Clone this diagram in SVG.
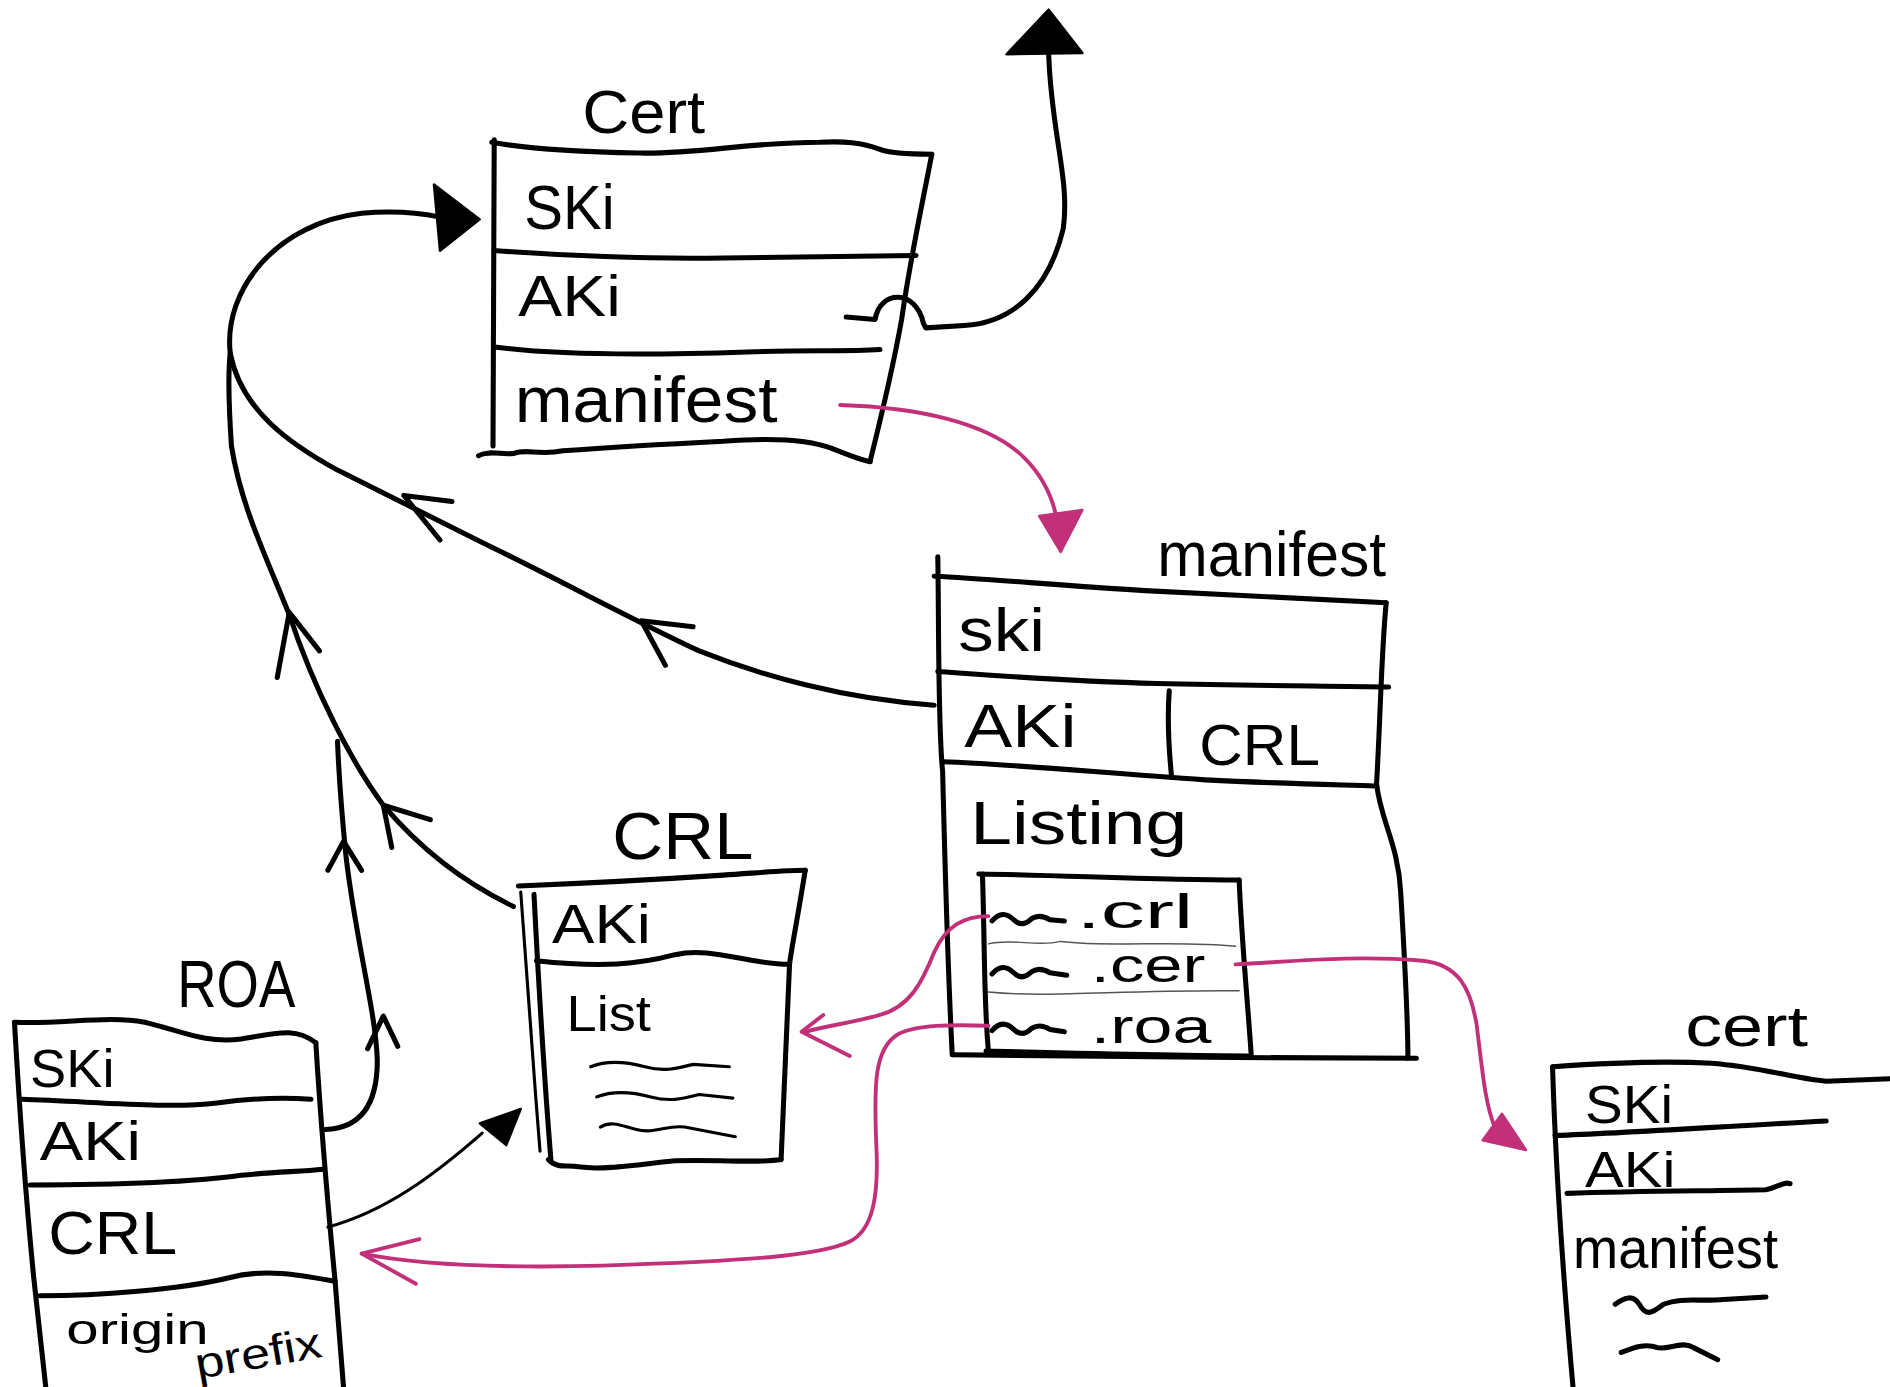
<svg xmlns="http://www.w3.org/2000/svg" width="1890" height="1387" viewBox="0 0 1890 1387">
<style>
.ln{fill:none;stroke:#000;stroke-width:4.2;stroke-linecap:round;stroke-linejoin:round}
.th{fill:none;stroke:#000;stroke-width:2.6;stroke-linecap:round;stroke-linejoin:round}
.hair{fill:none;stroke:#555;stroke-width:1.2;stroke-linecap:round}
.pk{fill:none;stroke:#c2307a;stroke-width:3.2;stroke-linecap:round;stroke-linejoin:round}
.pkf{fill:#c2307a;stroke:#c2307a;stroke-width:2;stroke-linejoin:round}
.hd{fill:#000;stroke:#000;stroke-width:2;stroke-linejoin:round}
text{font-family:"Liberation Sans","DejaVu Sans",sans-serif;fill:#000}
</style>
<rect width="1890" height="1387" fill="#fff"/>
<g transform="scale(1.2054)">
<g id="cert-top">
<path class="ln" d="M408,118 C440,124 480,126 530,127 C580,128 620,118 680,118 C700,117 715,118 730,124 C740,128 760,128 773,128"/>
<path class="ln" d="M410,116 L409,370"/>
<path class="ln" d="M773,128 C765,170 755,215 748,265 C740,310 730,350 722,382"/>
<path class="ln" d="M397,378 c10,-5 20,0 30,-2 c10,-4 20,2 40,-2 C520,370 560,368 600,366 C640,363 670,364 690,372 C705,378 715,382 722,383"/>
<path class="ln" d="M412,208 C470,212 540,215 600,214 C680,213 730,212 760,212"/>
<path class="ln" d="M412,288 C470,296 560,294 620,292 C670,290 700,292 730,290"/>
<text x="483" y="110" font-size="50" textLength="102" lengthAdjust="spacingAndGlyphs">Cert</text>
<text x="435" y="190" font-size="52" textLength="75" lengthAdjust="spacingAndGlyphs">SKi</text>
<text x="430" y="262" font-size="48" textLength="85" lengthAdjust="spacingAndGlyphs">AKi</text>
<text x="427" y="350" font-size="54" textLength="218" lengthAdjust="spacingAndGlyphs">manifest</text>
</g>
<g id="manifest">
<path class="ln" d="M775,478 C820,480 880,486 950,490 C1030,494 1100,498 1150,500"/>
<path class="ln" d="M778,462 C779,520 778,600 782,640 C784,720 786,800 790,875"/>
<path class="ln" d="M1150,500 C1146,540 1145,600 1142,650 C1145,680 1160,700 1162,740 C1165,790 1168,840 1168,878"/>
<path class="ln" d="M778,557 C820,560 880,565 960,567 C1040,569 1100,569 1152,570"/>
<path class="ln" d="M782,632 C840,634 900,640 1000,647 C1060,650 1110,651 1140,652"/>
<path class="ln" d="M970,573 C968,600 970,625 972,645"/>
<path class="ln" d="M790,875 C900,876 1050,878 1175,878"/>
<path class="ln" d="M812,725 C880,726 960,730 1028,730"/>
<path class="ln" d="M815,725 C817,780 816,830 820,872"/>
<path class="ln" d="M1028,730 C1030,780 1035,830 1038,875"/>
<path class="ln" d="M818,872 C900,874 980,876 1035,876"/>
<path class="hair" d="M820,783 C840,778 860,786 880,781 C920,786 980,780 1025,785"/>
<path class="hair" d="M820,823 C870,828 930,821 1028,822"/>
<path class="ln" d="M823,764 c6,-7 12,-7 18,-1 c5,5 10,4 15,-1 c5,-3 10,-2 15,1 l12,1"/>
<path class="ln" d="M823,808 c6,-7 12,-7 18,-1 c5,5 10,4 15,-1 c5,-3 10,-2 15,1 l14,2"/>
<path class="ln" d="M823,855 c6,-7 12,-7 18,-1 c5,5 10,4 15,-1 c5,-3 10,-2 15,1 l12,2"/>
<text x="960" y="478" font-size="52" textLength="190" lengthAdjust="spacingAndGlyphs">manifest</text>
<text x="795" y="540" font-size="50" textLength="72" lengthAdjust="spacingAndGlyphs">ski</text>
<text x="800" y="620" font-size="50" textLength="93" lengthAdjust="spacingAndGlyphs">AKi</text>
<text x="995" y="635" font-size="48" textLength="100" lengthAdjust="spacingAndGlyphs">CRL</text>
<text x="805" y="700" font-size="50" textLength="180" lengthAdjust="spacingAndGlyphs">Listing</text>
<text x="893" y="770" font-size="40" textLength="97" lengthAdjust="spacingAndGlyphs">.crl</text>
<text x="905" y="815" font-size="40" textLength="95" lengthAdjust="spacingAndGlyphs">.cer</text>
<text x="905" y="865" font-size="40" textLength="100" lengthAdjust="spacingAndGlyphs">.roa</text>
</g>
<g id="crl">
<path class="ln" d="M430,735 C480,733 540,730 600,726 C630,724 650,722 668,722"/>
<path class="th" d="M432,740 C436,800 442,880 448,955"/>
<path class="ln" d="M443,742 C447,820 452,900 457,962"/>
<path class="ln" d="M668,722 C662,760 656,790 655,800 C652,860 650,920 648,962"/>
<path class="ln" d="M445,797 C500,803 530,800 560,792 C590,785 620,800 655,800"/>
<path class="ln" d="M455,962 c8,8 15,4 25,6 c20,3 50,-2 80,-5 C600,962 630,965 648,962"/>
<path class="th" d="M490,885 c15,-6 30,-4 45,0 c15,4 25,2 40,-2 l30,2"/>
<path class="th" d="M495,910 c15,-6 30,-4 45,0 c15,4 25,2 40,-2 l28,3"/>
<path class="th" d="M498,935 c10,-6 20,0 30,2 c15,4 25,-4 40,-2 l42,8"/>
<text x="508" y="713" font-size="55" textLength="117" lengthAdjust="spacingAndGlyphs">CRL</text>
<text x="458" y="782" font-size="46" textLength="82" lengthAdjust="spacingAndGlyphs">AKi</text>
<text x="470" y="855" font-size="42" textLength="70" lengthAdjust="spacingAndGlyphs">List</text>
</g>
<g id="roa">
<path class="ln" d="M12,848 C50,850 90,842 120,848 C150,855 170,866 200,862 C230,857 245,852 262,865"/>
<path class="ln" d="M12,848 C15,900 20,980 28,1060 L38,1151"/>
<path class="ln" d="M262,865 C266,930 272,1000 278,1063 L285,1151"/>
<path class="ln" d="M18,912 C80,914 140,920 180,915 C210,911 235,910 258,912"/>
<path class="ln" d="M25,983 C80,983 150,982 200,975 C230,972 250,972 268,970"/>
<path class="ln" d="M33,1075 C80,1075 150,1070 190,1060 C220,1052 250,1058 278,1063"/>
<text x="147" y="835" font-size="55" textLength="98" lengthAdjust="spacingAndGlyphs">ROA</text>
<text x="25" y="902" font-size="44" textLength="70" lengthAdjust="spacingAndGlyphs">SKi</text>
<text x="33" y="962" font-size="46" textLength="84" lengthAdjust="spacingAndGlyphs">AKi</text>
<text x="40" y="1040" font-size="50" textLength="107" lengthAdjust="spacingAndGlyphs">CRL</text>
<text x="55" y="1115" font-size="36" textLength="118" lengthAdjust="spacingAndGlyphs">origin</text>
<text x="164" y="1144" font-size="36" textLength="106" lengthAdjust="spacingAndGlyphs" transform="rotate(-10 164 1144)">prefix</text>
</g>
<g id="cert-bottom">
<path class="ln" d="M1288,885 C1330,882 1380,880 1420,882 C1460,885 1490,895 1515,897 L1568,895"/>
<path class="ln" d="M1288,885 C1290,950 1295,1040 1305,1151"/>
<path class="ln" d="M1290,942 C1350,940 1420,935 1515,930"/>
<path class="ln" d="M1300,990 C1360,988 1420,988 1465,987 C1475,985 1480,980 1485,982"/>
<path class="ln" d="M1340,1082 c8,-6 15,-8 20,0 c5,10 10,8 20,0 c15,-6 30,-2 50,-4 l35,-2"/>
<path class="ln" d="M1345,1122 c10,-4 20,-8 30,-4 c10,2 20,-6 30,0 l20,10"/>
<text x="1398" y="868" font-size="48" textLength="102" lengthAdjust="spacingAndGlyphs">cert</text>
<text x="1315" y="932" font-size="44" textLength="73" lengthAdjust="spacingAndGlyphs">SKi</text>
<text x="1315" y="985" font-size="42" textLength="75" lengthAdjust="spacingAndGlyphs">AKi</text>
<text x="1305" y="1052" font-size="48" textLength="170" lengthAdjust="spacingAndGlyphs">manifest</text>
</g>
<g id="connectors">
<path class="ln" d="M702,263 L726,265 C730,240 760,240 766,268 L768,272 L800,270 C840,268 870,240 882,190 C888,150 872,110 870,45"/>
<polygon class="hd" points="870,8 835,45 898,44"/>
<path class="ln" d="M775,585 C700,580 630,560 580,540 C520,512 470,484 400,450 C360,430 320,410 280,390 C240,368 200,340 191,293 C185,240 230,185 300,177 C330,174 350,177 365,180"/>
<polygon class="hd" points="398,182 360,153 365,208"/>
<path class="ln" d="M426,752 C380,730 345,700 318,668 C290,630 260,570 240,510 C220,460 200,420 192,370 C190,340 189,310 191,293"/>
<path class="ln" d="M270,937 C300,936 313,915 313,880 C312,840 295,780 287,710 C283,670 281,640 280,615"/>
<path class="ln" d="M375,416 L335,411 L365,448"/>
<path class="ln" d="M575,520 L532,515 L552,552"/>
<path class="ln" d="M230,562 L240,508 L265,540"/>
<path class="ln" d="M325,703 L318,668 L357,680"/>
<path class="ln" d="M272,722 L285,698 L300,722"/>
<path class="ln" d="M305,870 L318,843 L330,868"/>
<path class="th" d="M272,1018 C320,1005 360,975 400,940"/>
<polygon class="hd" points="398,932 432,920 420,950"/>
<path class="pk" d="M697,336 C760,338 820,350 850,380 C868,398 876,420 878,440"/>
<polygon class="pkf" points="862,428 898,423 880,458"/>
<path class="pk" d="M820,760 C800,760 785,768 775,790 C765,815 755,835 730,842 C710,848 690,850 668,856"/>
<path class="pk" d="M683,842 L665,856 L705,876"/>
<path class="pk" d="M1025,800 C1070,798 1120,792 1180,797 C1210,800 1220,820 1225,850 C1230,890 1232,915 1240,935"/>
<polygon class="pkf" points="1246,924 1230,946 1266,954"/>
<path class="pk" d="M820,851 C790,850 760,850 745,858 C725,870 725,900 727,950 C729,990 725,1020 705,1030 C680,1042 620,1046 500,1050 C420,1052 350,1050 300,1040"/>
<path class="pk" d="M348,1028 L300,1040 L345,1065"/>
</g>
</g>
</svg>
